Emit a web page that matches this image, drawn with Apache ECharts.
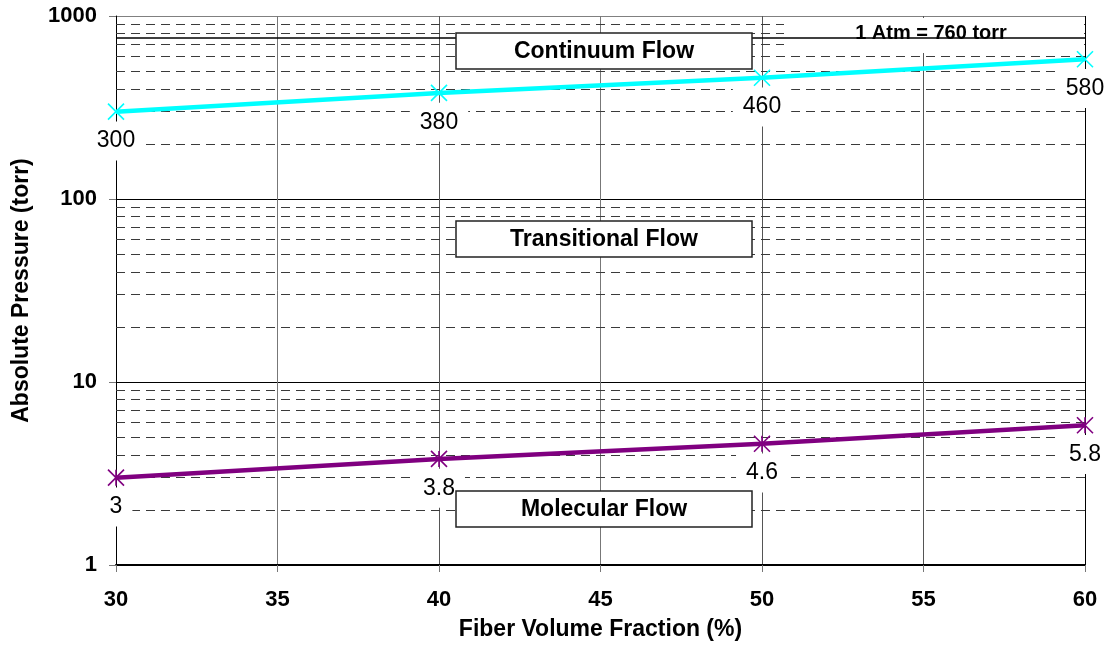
<!DOCTYPE html>
<html>
<head>
<meta charset="utf-8">
<title>Flow regimes vs fiber volume fraction</title>
<script src="https://cdn.jsdelivr.net/npm/echarts@6/dist/echarts.min.js"></script>
<style>
  html, body { margin: 0; padding: 0; background: #fff; }
  #chart { width: 1109px; height: 652px; }
</style>
</head>
<body>
<div id="chart"></div>
<script>
// Fiber volume fraction (%) at each computed point
const fiberFraction = [30, 40, 50, 60];
// Upper boundary: continuum / transitional (torr)
const continuumBoundary = [300, 380, 460, 580];
// Lower boundary: transitional / molecular (torr)
const molecularBoundary = [3, 3.8, 4.6, 5.8];
// Dashed minor grid inside each decade
const minorGrid = [2, 3, 4, 5, 6, 7, 8, 9, 20, 30, 40, 50, 60, 70, 80, 90, 200, 300, 400, 500, 600, 700, 800, 900];
// Atmospheric pressure reference (torr)
const atmosphere = 760;
const atmosphereLabel = '1 Atm = 760 torr';
// Flow regime names
const regimes = ['Continuum Flow', 'Transitional Flow', 'Molecular Flow'];

const FONT = '"Liberation Sans", Arial, sans-serif';
const chart = echarts.init(document.getElementById('chart'), null, { renderer: 'canvas' });

const toPairs = (ys) => fiberFraction.map((x, i) => [x, ys[i]]);

const crossSymbol = 'path://M0,0L16,16M16,0L0,16';
const asteriskSymbol = 'path://M0,0L16,16M16,0L0,16M8,0L8,16';

const valueLabel = {
  show: true,
  position: 'bottom',
  distance: 1,
  color: '#000',
  fontFamily: FONT,
  fontSize: 23,
  backgroundColor: '#fff',
  padding: [8, 10]
};

// Regime boxes (pixel layout inside the plot)
const boxLayout = [
  { x: 456, y: 33, w: 296, h: 36 },
  { x: 456, y: 221, w: 296, h: 36 },
  { x: 456, y: 491, w: 296, h: 36 }
];
const graphics = [];
boxLayout.forEach((b, i) => {
  graphics.push({
    type: 'rect', z: 60,
    shape: { x: b.x, y: b.y, width: b.w, height: b.h },
    style: { fill: '#fff', stroke: '#222', lineWidth: 1.5 }
  });
  graphics.push({
    type: 'text', z: 61,
    x: b.x + b.w / 2, y: b.y + b.h / 2 + 1,
    style: {
      text: regimes[i], fill: '#000',
      font: 'bold 23px ' + FONT,
      textAlign: 'center', textVerticalAlign: 'middle'
    }
  });
});
// White area carrying the atmosphere note
graphics.push({
  type: 'rect', z: 20,
  shape: { x: 784, y: 18, width: 300, height: 35 },
  style: { fill: '#fff' }
});
graphics.push({
  type: 'text', z: 21,
  x: 931, y: 33,
  style: {
    text: atmosphereLabel, fill: '#000',
    font: 'bold 20px ' + FONT,
    textAlign: 'center', textVerticalAlign: 'middle'
  }
});

const option = {
  backgroundColor: '#fff',
  animation: false,
  grid: { left: 116, right: 24, top: 16, bottom: 87, show: false },
  xAxis: {
    type: 'value',
    min: 30, max: 60, interval: 5,
    name: 'Fiber Volume Fraction (%)',
    nameLocation: 'middle',
    nameGap: 53,
    nameTextStyle: { fontFamily: FONT, fontSize: 23, fontWeight: 'bold', color: '#000' },
    axisLine: { show: true, onZero: false, lineStyle: { color: '#000', width: 2 } },
    axisTick: { show: true, inside: false, length: 7, lineStyle: { color: '#777', width: 1 } },
    axisLabel: { margin: 24, fontFamily: FONT, fontSize: 22, fontWeight: 'bold', color: '#000' },
    splitLine: {
      show: true,
      lineStyle: { color: ['#000', '#777', '#555', '#777', '#555', '#555', '#000'], width: 1 }
    }
  },
  yAxis: {
    type: 'log',
    logBase: 10,
    min: 1, max: 1000,
    name: 'Absolute Pressure (torr)',
    nameLocation: 'middle',
    nameGap: 83,
    nameTextStyle: { fontFamily: FONT, fontSize: 23, fontWeight: 'bold', color: '#000' },
    axisLine: { show: true, lineStyle: { color: '#000', width: 1 } },
    axisTick: { show: true, inside: false, length: 7, lineStyle: { color: '#777', width: 1 } },
    axisLabel: {
      margin: 19, fontFamily: FONT, fontSize: 22, fontWeight: 'bold', color: '#000',
      formatter: (v) => String(Math.round(v))
    },
    minorTick: { show: false },
    splitLine: {
      show: true,
      lineStyle: { color: ['#000', '#000', '#000', '#808080'], width: 1 }
    }
  },
  graphic: graphics,
  series: [
    {
      // dashed minor grid
      type: 'line',
      data: [],
      z: 1,
      silent: true,
      markLine: {
        z: 1,
        silent: true,
        symbol: 'none',
        label: { show: false },
        lineStyle: { color: '#3a3a3a', width: 1, type: [9, 6] },
        data: minorGrid.map((v) => ({ yAxis: v }))
      }
    },
    {
      // atmospheric pressure reference line
      type: 'line',
      data: [],
      z: 25,
      silent: true,
      markLine: {
        z: 25,
        silent: true,
        symbol: 'none',
        label: { show: false },
        lineStyle: { color: '#000', width: 1.5, type: 'solid' },
        data: [{ yAxis: atmosphere }]
      }
    },
    {
      name: 'Continuum boundary',
      type: 'line',
      z: 50,
      data: toPairs(continuumBoundary),
      symbol: crossSymbol,
      symbolSize: 16,
      clip: false,
      lineStyle: { color: '#00FFFF', width: 4.5 },
      itemStyle: { color: '#00FFFF', borderColor: '#00FFFF', borderWidth: 1.6 },
      label: valueLabel
    },
    {
      name: 'Molecular boundary',
      type: 'line',
      z: 50,
      data: toPairs(molecularBoundary),
      symbol: asteriskSymbol,
      symbolSize: 16,
      clip: false,
      lineStyle: { color: '#800080', width: 4.5 },
      itemStyle: { color: '#800080', borderColor: '#800080', borderWidth: 1.6 },
      label: valueLabel
    }
  ]
};

chart.setOption(option);
</script>
</body>
</html>
